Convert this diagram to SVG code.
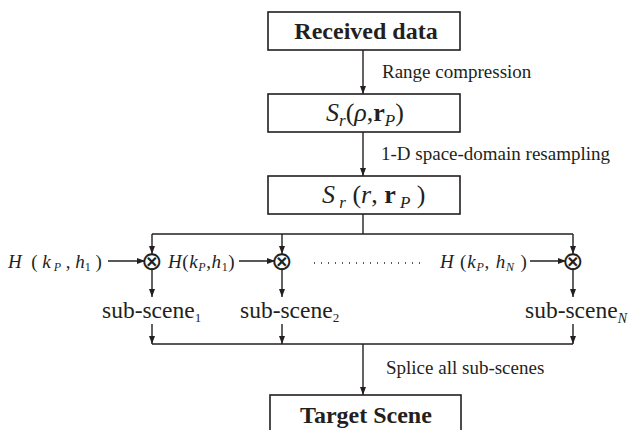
<svg xmlns="http://www.w3.org/2000/svg" width="628" height="430" viewBox="0 0 628 430">
<defs>
<marker id="ah" markerWidth="8" markerHeight="8" refX="8" refY="4" orient="auto" markerUnits="userSpaceOnUse">
<path d="M0,1 L8,4 L0,7 Z" fill="#231f20"/>
</marker>
<style>
.box{fill:#fff;stroke:#231f20;stroke-width:1.6}
.ln{fill:none;stroke:#231f20;stroke-width:1.4}
.arr{fill:none;stroke:#231f20;stroke-width:1.4;marker-end:url(#ah)}
.t{font-family:"Liberation Serif","Times New Roman",serif;fill:#231f20}
.b{font-weight:bold;font-size:24px}
.lbl{font-size:19px}
.sub{font-size:23.5px}
.m{font-size:26px}
.h{font-size:19px}
.i{font-style:italic}
.bf{font-weight:bold;font-style:normal}
.ox{font-family:"DejaVu Sans",sans-serif;font-size:26px;fill:#231f20}
</style>
</defs>
<g id="connectors">
<line class="arr" x1="363" y1="50" x2="363" y2="94"/>
<line class="arr" x1="363" y1="132" x2="363" y2="176"/>
<line class="ln" x1="363" y1="214" x2="363" y2="234"/>
<line class="ln" x1="152" y1="234" x2="573" y2="234"/>
<line class="arr" x1="152" y1="234" x2="152" y2="254"/>
<line class="arr" x1="282" y1="234" x2="282" y2="254"/>
<line class="arr" x1="573" y1="234" x2="573" y2="254"/>
<line class="arr" x1="108" y1="261" x2="145" y2="261"/>
<line class="arr" x1="239" y1="261" x2="275" y2="261"/>
<line class="arr" x1="530" y1="261" x2="566" y2="261"/>
<line class="arr" x1="152" y1="268" x2="152" y2="297"/>
<line class="arr" x1="282" y1="268" x2="282" y2="297"/>
<line class="arr" x1="573" y1="268" x2="573" y2="297"/>
<line class="arr" x1="152" y1="324" x2="152" y2="344"/>
<line class="arr" x1="282" y1="324" x2="282" y2="344"/>
<line class="arr" x1="573" y1="324" x2="573" y2="344"/>
<line class="ln" x1="152" y1="344" x2="573" y2="344"/>
<line class="arr" x1="363" y1="344" x2="363" y2="395"/>
<line class="ln" x1="314" y1="263" x2="422" y2="263" stroke-dasharray="1 6" stroke-width="1"/>
<text class="t lbl" x="382" y="78">Range compression</text>
<text class="t lbl" x="381" y="160">1-D space-domain resampling</text>
<text class="t lbl" x="386" y="374">Splice all sub-scenes</text>
</g>
<g id="received">
<rect class="box" x="268" y="12" width="192" height="38"/>
<text class="t b" x="366" y="39" text-anchor="middle">Received data</text>
</g>
<g id="s-rho">
<rect class="box" x="268" y="94" width="192" height="38"/>
<text class="t m" x="326" y="121"><tspan class="i">S</tspan><tspan class="i" font-size="17" dy="5">r</tspan><tspan dy="-5">(</tspan><tspan class="i">ρ</tspan><tspan>,</tspan><tspan class="bf">r</tspan><tspan class="i" font-size="17" dy="5">P</tspan><tspan dy="-5">)</tspan></text>
</g>
<g id="s-r">
<rect class="box" x="268" y="176" width="192" height="38"/>
<text class="t m" x="322" y="203" xml:space="preserve"><tspan class="i">S</tspan><tspan class="i" font-size="17" dy="5"> r</tspan><tspan dy="-5"> (</tspan><tspan class="i">r</tspan><tspan>, </tspan><tspan class="bf">r</tspan><tspan class="i" font-size="17" dy="5"> P</tspan><tspan dy="-5"> )</tspan></text>
</g>
<g id="mult1">
<text class="t h" x="8" y="268" xml:space="preserve"><tspan class="i">H</tspan><tspan>  ( </tspan><tspan class="i">k</tspan><tspan class="i" font-size="12" dy="3"> P</tspan><tspan dy="-3"> , </tspan><tspan class="i">h</tspan><tspan font-size="12" dy="3">1</tspan><tspan dy="-3"> )</tspan></text>
<text class="ox" x="152" y="269.5" text-anchor="middle">⊗</text>
</g>
<g id="mult2">
<text class="t h" x="168" y="268" letter-spacing="0.6"><tspan class="i">H</tspan><tspan>(</tspan><tspan class="i">k</tspan><tspan class="i" font-size="12" dy="3">P</tspan><tspan dy="-3">,</tspan><tspan class="i">h</tspan><tspan font-size="12" dy="3">1</tspan><tspan dy="-3">)</tspan></text>
<text class="ox" x="282" y="269.5" text-anchor="middle">⊗</text>
</g>
<g id="multN">
<text class="t h" x="440" y="268" xml:space="preserve" letter-spacing="0.8"><tspan class="i">H</tspan><tspan> (</tspan><tspan class="i">k</tspan><tspan class="i" font-size="12" dy="3">P</tspan><tspan dy="-3">, </tspan><tspan class="i">h</tspan><tspan class="i" font-size="12" dy="3">N</tspan><tspan dy="-3"> )</tspan></text>
<text class="ox" x="573" y="269.5" text-anchor="middle">⊗</text>
</g>
<g id="sub1">
<text class="t sub" x="102" y="318">sub-scene<tspan font-size="13" dy="4">1</tspan></text>
</g>
<g id="sub2">
<text class="t sub" x="240" y="318">sub-scene<tspan font-size="13" dy="4">2</tspan></text>
</g>
<g id="subN">
<text class="t sub" x="525" y="318">sub-scene<tspan class="i" font-size="14" dy="5">N</tspan></text>
</g>
<g id="target">
<rect class="box" x="270" y="395" width="191" height="40"/>
<text class="t b" x="366" y="423" text-anchor="middle">Target Scene</text>
</g>
</svg>
